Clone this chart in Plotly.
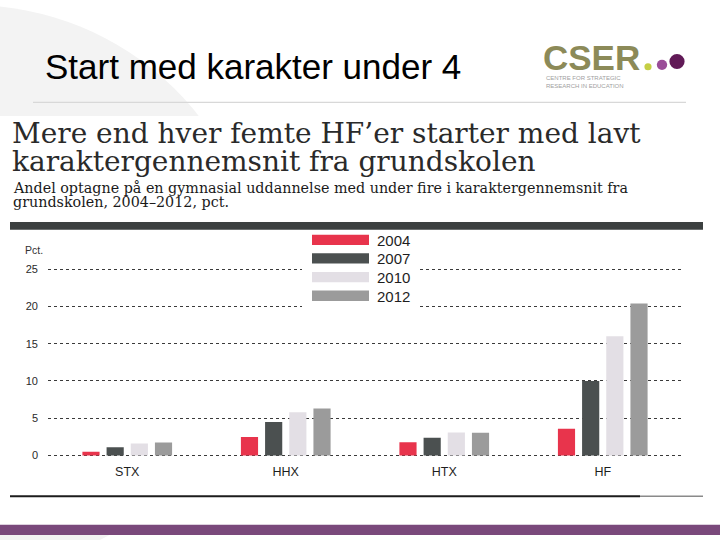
import plotly.graph_objects as go

W, H = 720, 540

categories = ["STX", "HHX", "HTX", "HF"]
years = ["2004", "2007", "2010", "2012"]
values_2004 = [0.5, 2.5, 1.8, 3.6]
values_2007 = [1.1, 4.5, 2.4, 10.0]
values_2010 = [1.6, 5.8, 3.1, 16.0]
values_2012 = [1.75, 6.3, 3.05, 20.4]
series = [values_2004, values_2007, values_2010, values_2012]
colors = ["#e8344c", "#4b5050", "#e3dfe5", "#9b9b9b"]
y_ticks = [0, 5, 10, 15, 20, 25]


def px(x):
    return x / W


def py(y):
    return 1 - y / H


fig = go.Figure()
for yr, vals, col in zip(years, series, colors):
    fig.add_trace(go.Bar(x=categories, y=vals, name=yr, marker=dict(color=col, line=dict(width=0)),
                         showlegend=False))

shapes = []
annotations = []

# slide decoration circle
shapes.append(dict(type="circle", xref="paper", yref="paper", x0=px(-318), x1=px(258), y0=py(576), y1=py(0),
                   fillcolor="#f3f3f3", line=dict(width=0), layer="below"))
# scanned area (white)
shapes.append(dict(type="rect", xref="paper", yref="paper", x0=0, x1=1, y0=py(530), y1=py(113),
                   fillcolor="white", line=dict(width=0), layer="below"))
# divider under title
shapes.append(dict(type="line", xref="paper", yref="paper", x0=px(33), x1=px(686), y0=py(99.3), y1=py(99.3),
                   line=dict(color="#d8d8d8", width=1.2), layer="below"))
# dark band under subtitle
shapes.append(dict(type="rect", xref="paper", yref="paper", x0=px(10), x1=px(703), y0=py(229), y1=py(221),
                   fillcolor="#3c4040", line=dict(width=0), layer="below"))
# bottom black line
shapes.append(dict(type="line", xref="paper", yref="paper", x0=px(10), x1=px(640), y0=py(500.5), y1=py(500.5),
                   line=dict(color="#1c1c1c", width=2), layer="below"))
shapes.append(dict(type="line", xref="paper", yref="paper", x0=px(640), x1=px(703), y0=py(500.5), y1=py(500.5),
                   line=dict(color="#8a8a8a", width=1.5), layer="below"))
# purple footer band
shapes.append(dict(type="rect", xref="paper", yref="paper", x0=0, x1=1, y0=0, y1=py(529.5),
                   fillcolor="#7a497b", line=dict(width=0), layer="above"))

# legend background (interrupts gridlines)
shapes.append(dict(type="rect", xref="paper", yref="paper", x0=px(302), x1=px(417), y0=py(311), y1=py(231),
                   fillcolor="white", line=dict(width=0), layer="above"))
for i, (yr, col) in enumerate(zip(years, colors)):
    top = 234 + i * 19
    shapes.append(dict(type="rect", xref="paper", yref="paper", x0=px(312), x1=px(369), y0=py(top + 10.5),
                       y1=py(top), fillcolor=col, line=dict(width=0), layer="above"))
    annotations.append(dict(text=yr, xref="paper", yref="paper", x=px(375), y=py(top + 5.5), xanchor="left",
                            yanchor="middle", showarrow=False, font=dict(family="Liberation Sans, Arial", size=15,
                                                                           color="#1e1e1e")))

# CSER logo dots
for cx, cy, r, col in [(648, 63, 3.6, "#c5cf45"), (662, 61, 5.2, "#9a4d98"), (677, 57.5, 7.6, "#611a57")]:
    shapes.append(dict(type="circle", xref="paper", yref="paper", x0=px(cx - r), x1=px(cx + r), y0=py(cy + r),
                       y1=py(cy - r), fillcolor=col, line=dict(width=0), layer="above"))

# Slide title
annotations.append(dict(text="Start med karakter under 4", xref="paper", yref="paper", x=px(43), y=py(63),
                        xanchor="left", yanchor="middle", showarrow=False,
                        font=dict(family="Liberation Sans, Arial", size=35, color="#000000")))
# logo text
annotations.append(dict(text="<b>CSER</b>", xref="paper", yref="paper", x=px(541), y=py(53), xanchor="left",
                        yanchor="middle", showarrow=False,
                        font=dict(family="Liberation Sans, Arial", size=35, color="#8c8a58")))
annotations.append(dict(text="CENTRE FOR STRATEGIC<br>RESEARCH IN EDUCATION", xref="paper", yref="paper",
                        x=px(544), y=py(78.5), xanchor="left", yanchor="middle", showarrow=False, align="left",
                        font=dict(family="Liberation Sans, Arial", size=6, color="#a0a0a0")))

# Chart headline and subtitle
annotations.append(dict(text="Mere end hver femte HF’er starter med lavt", xref="paper", yref="paper",
                        x=px(10), y=py(131), xanchor="left", yanchor="middle", showarrow=False,
                        font=dict(family="DejaVu Serif", size=28, color="#2a2a2a")))
annotations.append(dict(text="karaktergennemsnit fra grundskolen", xref="paper", yref="paper",
                        x=px(10), y=py(159), xanchor="left", yanchor="middle", showarrow=False,
                        font=dict(family="DejaVu Serif", size=28, color="#2a2a2a")))
annotations.append(dict(text="Andel optagne på en gymnasial uddannelse med under fire i karaktergennemsnit fra",
                        xref="paper", yref="paper", x=px(11), y=py(186), xanchor="left", yanchor="middle",
                        showarrow=False, font=dict(family="DejaVu Serif", size=14.3, color="#1a1a1a")))
annotations.append(dict(text="grundskolen, 2004–2012, pct.", xref="paper", yref="paper", x=px(11), y=py(201),
                        xanchor="left", yanchor="middle", showarrow=False,
                        font=dict(family="DejaVu Serif", size=14.3, color="#1a1a1a")))
# axis unit label
annotations.append(dict(text="Pct.", xref="paper", yref="paper", x=px(23), y=py(250), xanchor="left",
                        yanchor="middle", showarrow=False,
                        font=dict(family="Liberation Sans, Arial", size=10.5, color="#333333")))

fig.update_layout(
    width=W, height=H,
    margin=dict(l=0, r=0, t=0, b=0),
    paper_bgcolor="white", plot_bgcolor="rgba(0,0,0,0)",
    barmode="group", bargap=0.39, bargroupgap=0.29,
    showlegend=False,
    shapes=shapes, annotations=annotations,
    xaxis=dict(domain=[px(48), px(682)], showgrid=False, zeroline=False, showline=False, ticks="",
               tickfont=dict(family="Liberation Sans, Arial", size=12.5, color="#1e1e1e"),
               ticklabelstandoff=6),
    yaxis=dict(domain=[py(460.2), py(267.9)], range=[-0.15, 25.15], tickvals=y_ticks,
               showgrid=True, griddash="dot", gridcolor="#3a3a3a", gridwidth=1,
               zeroline=False, showline=False, ticks="",
               tickfont=dict(family="Liberation Sans, Arial", size=11, color="#2a2a2a"),
               ticklabelstandoff=9),
)

fig.write_html("out.html", config={"displayModeBar": False},
               post_script="document.body.style.margin='0';document.body.style.overflow='hidden';")
